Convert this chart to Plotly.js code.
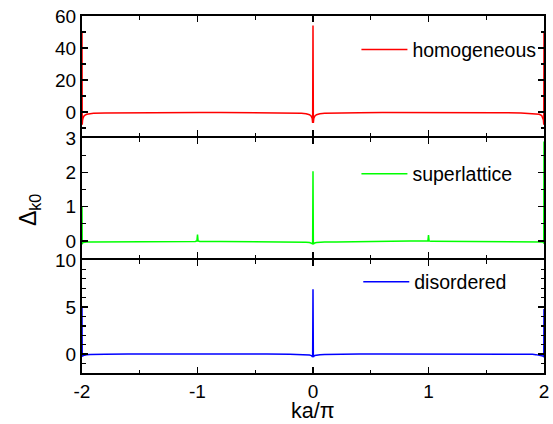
<!DOCTYPE html>
<html>
<head>
<meta charset="utf-8">
<script src="https://cdn.plot.ly/plotly-3.0.1.min.js"></script>
<style>html,body{margin:0;padding:0;background:#fff;}#chart{width:553px;height:424px;}</style>
</head>
<body>
<div id="chart"></div>
<script>
// shared sampling of ka/pi
const kx = [-2, -1.998, -1.995, -1.99, -1.98, -1.96, -1.93, -1.9, -1.8, -1.6, -1.4, -1.2, -1.02, -1.005, -1, -0.995, -0.98, -0.8, -0.6, -0.4, -0.2, -0.1, -0.06, -0.03, -0.015, -0.007, -0.003, 0, 0.003, 0.007, 0.015, 0.03, 0.06, 0.1, 0.2, 0.4, 0.6, 0.8, 0.98, 0.995, 1, 1.005, 1.02, 1.2, 1.4, 1.6, 1.8, 1.9, 1.93, 1.96, 1.98, 1.99, 1.995, 1.998, 2];

const homogeneous = [50, -8, -5, -3.5, -2.2, -1.4, -1.0, -0.8, -0.55, -0.4, -0.35, -0.3, -0.3, -0.3, -0.3, -0.3, -0.3, -0.3, -0.35, -0.4, -0.55, -0.8, -1.1, -1.7, -2.6, -4, -6.8, 54, -6.8, -4, -2.6, -1.7, -1.1, -0.8, -0.55, -0.4, -0.35, -0.3, -0.3, -0.3, -0.3, -0.3, -0.3, -0.3, -0.35, -0.4, -0.55, -0.8, -1.0, -1.4, -2.2, -3.5, -5, -8, 50];

const superlattice = [1.0, -0.1, -0.06, -0.05, -0.04, -0.035, -0.03, -0.03, -0.03, -0.025, -0.025, -0.02, -0.02, 0.0, 0.18, 0.0, -0.02, -0.02, -0.02, -0.025, -0.03, -0.035, -0.04, -0.05, -0.06, -0.08, -0.1, 2.03, -0.1, -0.08, -0.06, -0.05, -0.04, -0.035, -0.03, -0.025, -0.02, -0.02, -0.015, 0.0, 0.17, 0.0, -0.015, -0.015, -0.015, -0.01, -0.01, -0.01, -0.01, -0.015, -0.02, -0.03, -0.05, -0.08, 2.9];

const disordered = [5.0, -0.25, -0.2, -0.15, -0.1, -0.06, -0.04, -0.02, 0.0, 0.02, 0.03, 0.04, 0.04, 0.04, 0.04, 0.04, 0.04, 0.04, 0.03, 0.02, 0.0, -0.03, -0.06, -0.1, -0.15, -0.22, -0.3, 6.9, -0.3, -0.22, -0.15, -0.1, -0.06, -0.03, 0.0, 0.02, 0.03, 0.03, 0.03, 0.03, 0.03, 0.03, 0.03, 0.03, 0.03, 0.02, 0.01, -0.02, -0.05, -0.1, -0.15, -0.2, -0.25, -0.3, 4.8];

const seriesNames = ["homogeneous", "superlattice", "disordered"];
const xTickVals = [-2, -1, 0, 1, 2];
const xTickText = ["-2", "-1", "0", "1", "2"];
const topTicks = [0, 20, 40, 60];
const midTicks = [0, 1, 2, 3];
const botTicks = [0, 5, 10];

const FONT = "Liberation Sans, Arial, sans-serif";
const PH = 357; // plot area height in px
const LW = 2;   // axis line width

const traces = [
  {x: kx, y: homogeneous, xaxis: "x3", yaxis: "y3", name: seriesNames[0], mode: "lines",
   line: {color: "#ff0000", width: 1.5}, legend: "legend3"},
  {x: kx, y: superlattice, xaxis: "x2", yaxis: "y2", name: seriesNames[1], mode: "lines",
   line: {color: "#00ff00", width: 1.5}, legend: "legend2"},
  {x: kx, y: disordered, xaxis: "x", yaxis: "y", name: seriesNames[2], mode: "lines",
   line: {color: "#0000ff", width: 1.5}, legend: "legend"}
];

function xax(anchor, labels) {
  return {
    anchor: anchor, domain: [0, 1], range: [-2, 2],
    tickvals: xTickVals, ticktext: xTickText, showticklabels: labels,
    ticks: "inside", ticklen: 6, tickwidth: 1.5, tickcolor: "#000",
    minor: {ticks: "inside", dtick: 0.5, tick0: 0, ticklen: 3.5, tickwidth: 1.2, tickcolor: "#000", showgrid: false},
    mirror: "ticks", showline: true, linecolor: "#000", linewidth: LW,
    showgrid: false, zeroline: false,
    tickfont: {family: FONT, size: 19, color: "#000"}
  };
}
function yax(anchor, domain, range, tv, minorDt) {
  return {
    anchor: anchor, domain: domain, range: range, tickvals: tv,
    ticks: "inside", ticklen: 6, tickwidth: 1.5, tickcolor: "#000",
    minor: {ticks: "inside", dtick: minorDt, tick0: 0, ticklen: 3.5, tickwidth: 1.2, tickcolor: "#000", showgrid: false},
    mirror: "ticks", showline: true, linecolor: "#000", linewidth: LW,
    showgrid: false, zeroline: false,
    tickfont: {family: FONT, size: 19, color: "#000"}
  };
}

function leg(x, y) {
  return {x: x, y: y, xanchor: "left", yanchor: "middle", bgcolor: "rgba(0,0,0,0)",
          borderwidth: 0, itemwidth: 46, font: {family: FONT, size: 19.5, color: "#000"}};
}

const layout = {
  width: 553, height: 424,
  margin: {l: 82, r: 9, t: 16, b: 51},
  paper_bgcolor: "#fff", plot_bgcolor: "#fff",
  font: {family: FONT, color: "#000"},
  showlegend: true,
  xaxis: xax("y", true),
  xaxis2: xax("y2", false),
  xaxis3: xax("y3", false),
  yaxis: yax("x", [0, (115 - LW) / PH], [-2, 10], botTicks, 1),
  yaxis2: yax("x2", [115 / PH, (237 - LW) / PH], [-0.5, 3], midTicks, 0.5),
  yaxis3: yax("x3", [237 / PH, 1], [-15, 60], topTicks, 10),
  legend3: leg(0.594, 0.905),
  legend2: leg(0.594, 0.557),
  legend: leg(0.598, 0.255),
  annotations: [
    {xref: "paper", yref: "paper", x: 0.5, y: -0.107, xanchor: "center", yanchor: "middle",
     text: "ka/π", showarrow: false, borderpad: 0, font: {family: FONT, size: 21.5, color: "#000"}},
    {xref: "paper", yref: "paper", x: -0.112, y: 0.457, xanchor: "center", yanchor: "middle",
     text: "Δ<sub>k0</sub>", textangle: -90, showarrow: false, font: {family: FONT, size: 23, color: "#000"}}
  ]
};

Plotly.newPlot("chart", traces, layout, {staticPlot: true, displayModeBar: false});
</script>
</body>
</html>
